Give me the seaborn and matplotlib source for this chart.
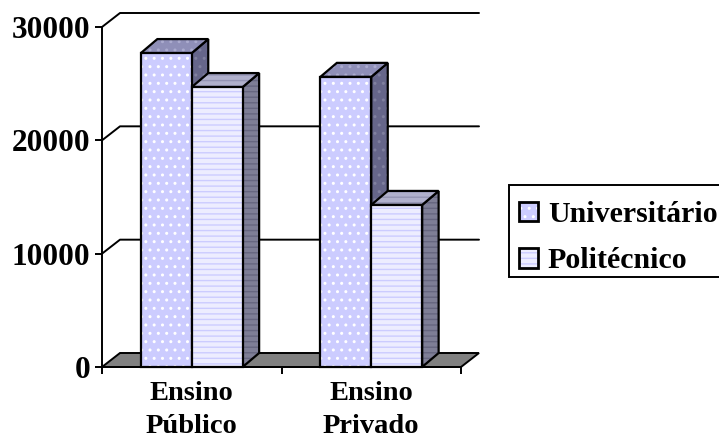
import matplotlib
matplotlib.use("Agg")
import matplotlib.pyplot as plt
from matplotlib.patches import Patch, Polygon, Rectangle
from matplotlib.legend_handler import HandlerTuple
import pandas as pd
import seaborn as sns

categories = ["Ensino\nPúblico", "Ensino\nPrivado"]
series_names = ["Universitário", "Politécnico"]
universitario = [27700, 25600]
politecnico = [24700, 14300]
y_ticks = [0, 10000, 20000, 30000]

# Per-series fill and pattern for the front, top and side of each column
HATCH = ["..", "---"]
FRONT = ["#CCCCFF", "#EDEDFF"]
FRONT_INK = ["#FFFFFF", "#CCCCFF"]
TOP = ["#8F8FB8", "#B0B0CC"]
TOP_INK = ["#ABABCF", "#9494B4"]
SIDE = ["#66668A", "#7E7E96"]
SIDE_INK = ["#80809F", "#666680"]

df = pd.DataFrame({
    "ensino": categories * 2,
    "tipo": [series_names[0]] * 2 + [series_names[1]] * 2,
    "valor": universitario + politecnico,
})

sns.set_theme(style="white")
plt.rcParams["font.family"] = ["Liberation Serif", "DejaVu Serif"]
plt.rcParams["font.weight"] = "bold"
plt.rcParams["text.color"] = "black"
plt.rcParams["hatch.linewidth"] = 1.0

W, H = 719, 445
fig = plt.figure(figsize=(W / 100, H / 100), dpi=100)
ax = fig.add_axes([102 / W, 1 - 367 / H, 359 / W, 340 / H])

sns.barplot(data=df, x="ensino", y="valor", hue="tipo", order=categories,
            hue_order=series_names, palette=FRONT, width=0.567, gap=0,
            saturation=1, linewidth=0, ax=ax, legend=False)

ax.set_xlim(-0.5, 1.5)
ax.set_ylim(0, 30000)
px_x = 2 / 359
px_y = 30000 / 340
wall_dx, wall_dy = 18 * px_x, 14 * px_y
bar_dx, bar_dy = 16.5 * px_x, 14 * px_y
x0, x1 = -0.5, 1.5


def shaded(points, face, ink, hatch, z):
    """Add a shaded face: the hatch layer plus a black outline."""
    ax.add_patch(Polygon(points, closed=True, facecolor=face, edgecolor=ink,
                         hatch=hatch, linewidth=0, zorder=z, clip_on=False))
    ax.add_patch(Polygon(points, closed=True, fill=False, edgecolor="black",
                         linewidth=1.6, joinstyle="miter", zorder=z + 0.05, clip_on=False))


# Back wall and floor of the 3D box
for v in y_ticks[1:]:
    ax.plot([x0, x0 + wall_dx, x1 + wall_dx], [v, v + wall_dy, v + wall_dy],
            color="black", lw=1.4, zorder=1, clip_on=False)
ax.add_patch(Polygon([(x0, 0), (x0 + wall_dx, wall_dy), (x1 + wall_dx, wall_dy), (x1, 0)],
                     closed=True, facecolor="#808080", edgecolor="black", lw=1.4,
                     zorder=1.5, clip_on=False))

# Columns, left to right so each one overlaps the side of the previous
for i, container in enumerate(ax.containers):
    for j, bar in enumerate(container):
        left, w, h = bar.get_x(), bar.get_width(), bar.get_height()
        right = left + w
        base = 3 + j * 2 + i * 0.5
        bar.set_edgecolor(FRONT_INK[i])
        bar.set_linewidth(0)
        bar.set_hatch(HATCH[i])
        bar.set_zorder(base + 0.2)
        ax.add_patch(Rectangle((left, 0), w, h, fill=False, edgecolor="black",
                               lw=1.6, zorder=base + 0.3, clip_on=False))
        shaded([(right, 0), (right + bar_dx, bar_dy), (right + bar_dx, h + bar_dy), (right, h)],
               SIDE[i], SIDE_INK[i], HATCH[i], base)
        shaded([(left, h), (left + bar_dx, h + bar_dy), (right + bar_dx, h + bar_dy), (right, h)],
               TOP[i], TOP_INK[i], HATCH[i], base + 0.1)

for s in ["top", "right"]:
    ax.spines[s].set_visible(False)
for s in ["left", "bottom"]:
    ax.spines[s].set_color("black")
    ax.spines[s].set_linewidth(1.4)
    ax.spines[s].set_zorder(2)

ax.set_xlabel("")
ax.set_ylabel("")
ax.set_yticks(y_ticks)
ax.set_yticklabels([str(v) for v in y_ticks], fontsize=22.5, fontweight="bold", color="black")
ax.set_xticks([x0, 0.5, x1])
ax.set_xticklabels([])
ax.set_xticks([0, 1], labels=categories, minor=True, fontsize=20.5,
              fontweight="bold", color="black", linespacing=1.45)
ax.tick_params(axis="both", which="major", length=5, width=1.4, color="black",
               left=True, bottom=True)
ax.tick_params(axis="y", pad=3.5)
ax.tick_params(axis="x", which="minor", length=0, pad=10)

# Legend box runs past the right edge of the figure; entries sit inside it unframed
fig.add_artist(Rectangle((509 / W, 1 - 277 / H), 230 / W, 92 / H, transform=fig.transFigure,
                         facecolor="white", edgecolor="black", linewidth=1.4))
handles = [
    (Patch(facecolor=FRONT[k], edgecolor=FRONT_INK[k], linewidth=0, hatch=HATCH[k]),
     Patch(fill=False, edgecolor="black", linewidth=2.0))
    for k in range(2)
]
fig.legend(handles, series_names, handler_map={tuple: HandlerTuple(ndivide=1, pad=0)},
           loc="upper left", bbox_to_anchor=(507 / W, 1 - 189 / H), borderaxespad=0,
           fontsize=21.5, frameon=False, handlelength=0.64, handleheight=0.64,
           handletextpad=0.33, labelspacing=0.65, borderpad=0.4, labelcolor="black")

fig.savefig("out.png", dpi=100)
